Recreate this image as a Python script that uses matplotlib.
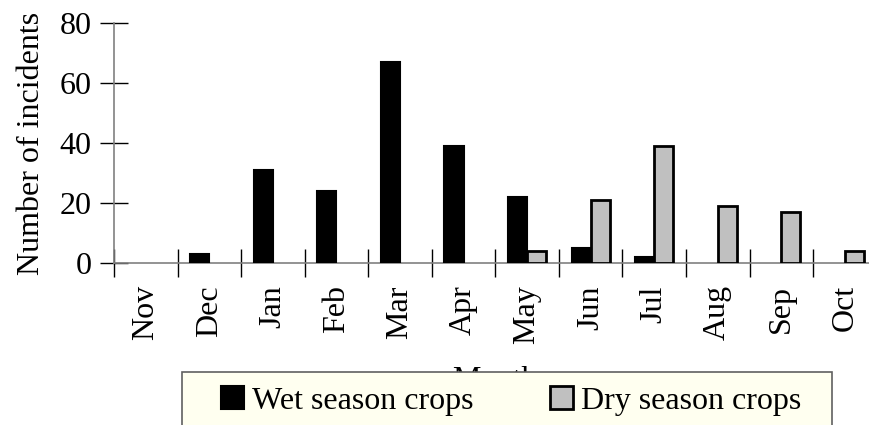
import matplotlib
matplotlib.use('Agg')
import matplotlib.pyplot as plt
from matplotlib.patches import Rectangle
import numpy as np

# data
months = ['Nov', 'Dec', 'Jan', 'Feb', 'Mar', 'Apr', 'May', 'Jun', 'Jul', 'Aug', 'Sep', 'Oct']
wet = [0, 3, 31, 24, 67, 39, 22, 5, 2, 0, 0, 0]
dry = [0, 0, 0, 0, 0, 0, 4, 21, 39, 19, 17, 4]
yticks = [0, 20, 40, 60, 80]

plt.rcParams['font.family'] = ['Liberation Serif', 'DejaVu Serif']
fs = 23

fig = plt.figure(figsize=(8.69, 4.25), dpi=100)
ax = fig.add_axes([114 / 869, 1 - 263 / 425, 762.6 / 869, 240 / 425])

x = np.arange(len(months))
w = 0.3
# zero values get no bar at all
wet_h = [v if v > 0 else np.nan for v in wet]
dry_h = [v if v > 0 else np.nan for v in dry]
ax.bar(x - w, wet_h, width=w, align='edge', color='black', edgecolor='black',
       linewidth=1.5, label='Wet season crops', zorder=3)
ax.bar(x, dry_h, width=w, align='edge', color='#c0c0c0',
       edgecolor='black', linewidth=2, label='Dry season crops', zorder=3)

ax.set_xlim(-0.5, len(months) - 0.5)
ax.set_ylim(0, 80)
ax.set_yticks(yticks)
ax.tick_params(axis='y', direction='inout', length=20, width=1, labelsize=fs, pad=6)

# month boundaries get the tick marks, labels sit in the middle
ax.set_xticks(np.arange(len(months) + 1) - 0.5)
ax.set_xticklabels([])
ax.tick_params(axis='x', which='major', direction='inout', length=20, width=1)
ax.set_xticks(x, minor=True)
ax.set_xticklabels(months, minor=True, rotation=90, fontsize=fs)
ax.tick_params(axis='x', which='minor', length=0, pad=16)

for s in ['top', 'right']:
    ax.spines[s].set_visible(False)
for s in ['left', 'bottom']:
    ax.spines[s].set_color('#808080')
    ax.spines[s].set_linewidth(1.2)

ax.set_ylabel('Number of incidents', fontsize=fs, labelpad=10)
ax.set_xlabel('Month', fontsize=fs, labelpad=16)

# legend box runs off the bottom of the picture
box = Rectangle((182 / 869, -0.1), 650 / 869, 0.1 + 1 - 372 / 425, transform=fig.transFigure,
                facecolor='#fffff0', edgecolor='#606060', linewidth=1.2, zorder=5)
fig.patches.append(box)

leg = fig.legend(loc='upper left', bbox_to_anchor=(221 / 869, 1 - 386 / 425),
                 ncol=2, fontsize=fs, frameon=False,
                 borderaxespad=0, borderpad=0, handlelength=0.72, handleheight=0.72,
                 handletextpad=0.25, columnspacing=2.4)
leg.set_zorder(6)

fig.savefig('out.png', dpi=100)
